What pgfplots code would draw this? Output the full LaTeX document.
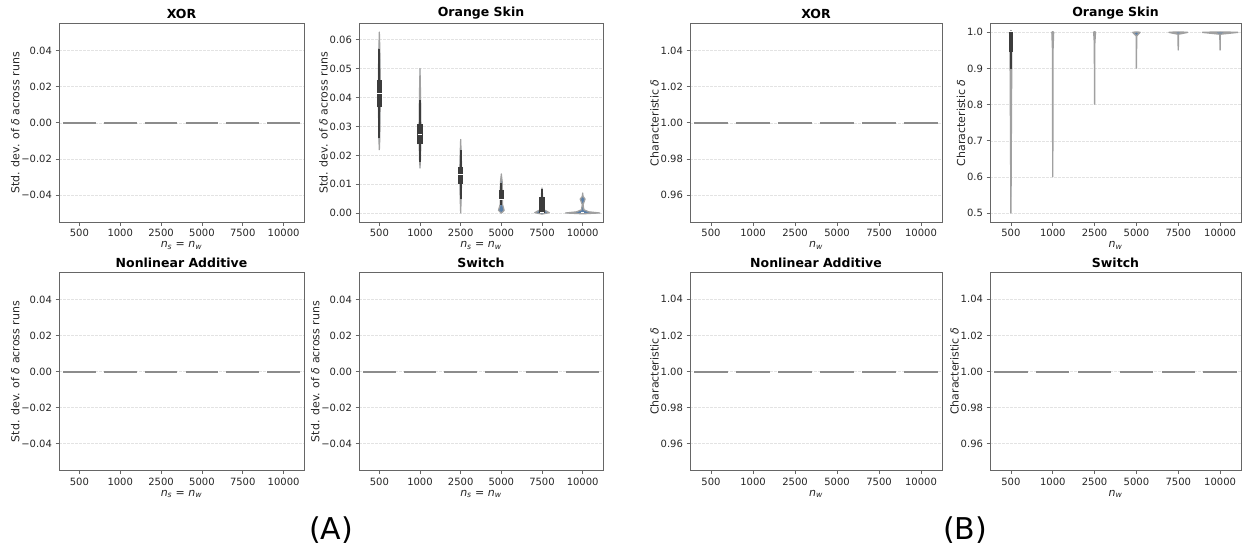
\documentclass[border=0pt]{standalone}
\usepackage{pgfplots}
\pgfplotsset{compat=1.18}
\usepackage{fontspec}
\setmainfont{DejaVu Sans}

\definecolor{frame}{HTML}{666666}
\definecolor{txt}{HTML}{262626}
\definecolor{flat}{HTML}{8C8C8C}
\definecolor{dark}{HTML}{3C3C3C}
\definecolor{vblue}{HTML}{5B80A8}
\definecolor{vedge}{HTML}{A0A0A0}
\definecolor{gridc}{HTML}{E3E3E3}

\pgfplotsset{
  panel/.style={
    scale only axis, height=199pt,
    xmin=-0.5, xmax=5.5, xtick={0,...,5},
    xticklabels={500,1000,2500,5000,7500,10000},
    scaled y ticks=false,
    ymajorgrids, grid style={gridc, dash pattern=on 2.5pt off 1.5pt, line width=0.5pt},
    axis line style={frame, line width=0.9pt},
    tick style={frame, line width=0.8pt},
    major tick length=3.5pt, tick align=outside,
    xtick pos=left, ytick pos=left,
    ticklabel style={font=\fontsize{10}{12}\selectfont, text=txt},
    label style={font=\fontsize{11}{13}\selectfont, text=txt},
    xlabel style={yshift=2pt},
    ylabel shift=-5pt,
    title style={font=\bfseries\fontsize{12.5}{15}\selectfont, yshift=-5pt},
    /pgf/number format/assume math mode=true,
  },
  panelA/.style={panel,
    xlabel={\textit{n}\textsubscript{\textit{s}} = \textit{n}\textsubscript{\textit{w}}},
    ylabel={Std. dev. of \textit{δ} across runs}},
  panelB/.style={panel,
    xlabel={\textit{n}\textsubscript{\textit{w}}},
    ylabel={Characteristic \textit{δ}}},
  zeroA/.style={panelA, ymin=-0.055, ymax=0.055,
    ytick={-0.04,-0.02,0,0.02,0.04},
    yticklabels={−0.04,−0.02,0.00,0.02,0.04}},
  oneB/.style={panelB, ymin=0.945, ymax=1.055,
    ytick={0.96,0.98,1.00,1.02,1.04},
    yticklabels={0.96,0.98,1.00,1.02,1.04}},
  flatseg/.style={flat, line width=2pt, unbounded coords=jump},
  violin/.style={fill=vblue, draw=vedge, line width=1.2pt, line join=round},
  whisk/.style={dark, line width=1.8pt},
  iqr/.style={dark, line width=5.5pt},
  med/.style={white, line width=1pt},
}

\begin{document}
\begin{tikzpicture}
\useasboundingbox (0,0) rectangle (1243pt,550pt);

% ---------------- (A) ----------------
\begin{axis}[zeroA, width=245pt, at={(59pt,327.7pt)}, anchor=south west, title={XOR}]
\addplot[flatseg] coordinates {(-0.4,0) (0.4,0) (0.5,nan) (0.6,0) (1.4,0) (1.5,nan) (1.6,0) (2.4,0) (2.5,nan)
  (2.6,0) (3.4,0) (3.5,nan) (3.6,0) (4.4,0) (4.5,nan) (4.6,0) (5.4,0)};
\end{axis}

\begin{axis}[panelA, width=244pt, at={(359pt,327.7pt)}, anchor=south west, title={Orange Skin},
  ymin=-0.003125, ymax=0.065625, ytick={0,0.01,...,0.06},
  yticklabels={0.00,0.01,0.02,0.03,0.04,0.05,0.06}]
% 500
\addplot[violin] coordinates {(0,0.0218) (0.012,0.026) (0.02,0.035) (0.025,0.042) (0.02,0.05) (0.012,0.057) (0,0.0626)
  (-0.012,0.057) (-0.02,0.05) (-0.025,0.042) (-0.02,0.035) (-0.012,0.026) (0,0.0218)};
\addplot[whisk] coordinates {(0,0.0259) (0,0.0569)};
\addplot[iqr] coordinates {(0,0.0366) (0,0.0462)};
\addplot[med] coordinates {(-0.06,0.0414) (0.06,0.0414)};
% 1000
\addplot[violin] coordinates {(1,0.0155) (1.012,0.019) (1.02,0.024) (1.025,0.028) (1.02,0.034) (1.012,0.042) (1,0.050)
  (0.988,0.042) (0.98,0.034) (0.975,0.028) (0.98,0.024) (0.988,0.019) (1,0.0155)};
\addplot[whisk] coordinates {(1,0.0178) (1,0.039)};
\addplot[iqr] coordinates {(1,0.0238) (1,0.0308)};
\addplot[med] coordinates {(0.94,0.0272) (1.06,0.0272)};
% 2500
\addplot[violin] coordinates {(2,0.0) (2.012,0.005) (2.02,0.010) (2.025,0.0135) (2.02,0.017) (2.012,0.021) (2,0.0255)
  (1.988,0.021) (1.98,0.017) (1.975,0.0135) (1.98,0.010) (1.988,0.005) (2,0.0)};
\addplot[whisk] coordinates {(2,0.0049) (2,0.0218)};
\addplot[iqr] coordinates {(2,0.0101) (2,0.0161)};
\addplot[med] coordinates {(1.94,0.0135) (2.06,0.0135)};
% 5000
\addplot[violin] coordinates {(3,0.0) (3.07,0.001) (3.03,0.003) (3.03,0.007) (3.02,0.011) (3,0.0136)
  (2.98,0.011) (2.97,0.007) (2.97,0.003) (2.93,0.001) (3,0.0)};
\addplot[whisk] coordinates {(3,0.0030) (3,0.0104)};
\addplot[iqr] coordinates {(3,0.0046) (3,0.0080)};
\addplot[med] coordinates {(2.94,0.0049) (3.06,0.0049)};
% 7500
\addplot[violin] coordinates {(4,-0.0003) (4.18,0.0002) (4.05,0.0012) (4.025,0.003) (4.015,0.006) (4,0.0087)
  (3.985,0.006) (3.975,0.003) (3.95,0.0012) (3.82,0.0002) (4,-0.0003)};
\addplot[whisk] coordinates {(4,0.0) (4,0.0085)};
\addplot[iqr] coordinates {(4,0.0) (4,0.0057)};
\addplot[med] coordinates {(3.94,0.0003) (4.06,0.0003)};
% 10000
\addplot[violin] coordinates {(5,-0.0002) (5.42,0.0001) (5.15,0.0005) (5.03,0.0012) (5.01,0.003) (5.06,0.0049) (5.01,0.0058) (5,0.007)
  (4.99,0.0058) (4.94,0.0049) (4.99,0.003) (4.97,0.0012) (4.85,0.0005) (4.58,0.0001) (5,-0.0002)};
\addplot[med] coordinates {(4.96,0.0001) (5.04,0.0001)};
\end{axis}

\begin{axis}[zeroA, width=245pt, at={(59pt,79.3pt)}, anchor=south west, height=198.4pt, title={Nonlinear Additive}]
\addplot[flatseg] coordinates {(-0.4,0) (0.4,0) (0.5,nan) (0.6,0) (1.4,0) (1.5,nan) (1.6,0) (2.4,0) (2.5,nan)
  (2.6,0) (3.4,0) (3.5,nan) (3.6,0) (4.4,0) (4.5,nan) (4.6,0) (5.4,0)};
\end{axis}

\begin{axis}[zeroA, width=244pt, at={(359pt,79.3pt)}, anchor=south west, height=198.4pt, title={Switch}]
\addplot[flatseg] coordinates {(-0.4,0) (0.4,0) (0.5,nan) (0.6,0) (1.4,0) (1.5,nan) (1.6,0) (2.4,0) (2.5,nan)
  (2.6,0) (3.4,0) (3.5,nan) (3.6,0) (4.4,0) (4.5,nan) (4.6,0) (5.4,0)};
\end{axis}

% ---------------- (B) ----------------
\begin{axis}[oneB, width=252pt, at={(690pt,327.7pt)}, anchor=south west, title={XOR}]
\addplot[flatseg] coordinates {(-0.4,1) (0.4,1) (0.5,nan) (0.6,1) (1.4,1) (1.5,nan) (1.6,1) (2.4,1) (2.5,nan)
  (2.6,1) (3.4,1) (3.5,nan) (3.6,1) (4.4,1) (4.5,nan) (4.6,1) (5.4,1)};
\end{axis}

\begin{axis}[panelB, width=251pt, at={(990pt,327.7pt)}, anchor=south west, title={Orange Skin},
  ymin=0.475, ymax=1.025, ytick={0.5,0.6,0.7,0.8,0.9,1.0},
  yticklabels={0.5,0.6,0.7,0.8,0.9,1.0}]
\addplot[violin, line width=1.4pt] coordinates {(0,0.5) (0.008,0.7) (0.02,0.95) (0.03,1.0) (0,1.005) (-0.03,1.0) (-0.02,0.95) (-0.008,0.7) (0,0.5)};
\addplot[whisk] coordinates {(0,0.90) (0,1.0)};
\addplot[iqr, line width=4.5pt] coordinates {(0,0.945) (0,1.004)};
\addplot[med] coordinates {(-0.05,1.002) (0.05,1.002)};
\addplot[violin, line width=1.4pt] coordinates {(1,0.6) (1.005,0.95) (1.02,1.0) (1,1.002) (0.98,1.0) (0.995,0.95) (1,0.6)};
\addplot[violin, line width=1.4pt] coordinates {(2,0.8) (2.005,0.97) (2.02,1.0) (2,1.002) (1.98,1.0) (1.995,0.97) (2,0.8)};
\addplot[violin, line width=1.4pt] coordinates {(3,0.9) (3.005,0.99) (3.085,1.0) (3,1.001) (2.915,1.0) (2.995,0.99) (3,0.9)};
\addplot[violin, line width=1.4pt] coordinates {(4,0.95) (4.005,0.995) (4.22,1.0) (4,1.001) (3.78,1.0) (3.995,0.995) (4,0.95)};
\addplot[violin, line width=1.4pt] coordinates {(5,0.95) (5.005,0.995) (5.42,1.0) (5,1.001) (4.58,1.0) (4.995,0.995) (5,0.95)};
\end{axis}

\begin{axis}[oneB, width=252pt, at={(690pt,79.3pt)}, anchor=south west, height=198.4pt, title={Nonlinear Additive}]
\addplot[flatseg] coordinates {(-0.4,1) (0.4,1) (0.5,nan) (0.6,1) (1.4,1) (1.5,nan) (1.6,1) (2.4,1) (2.5,nan)
  (2.6,1) (3.4,1) (3.5,nan) (3.6,1) (4.4,1) (4.5,nan) (4.6,1) (5.4,1)};
\end{axis}

\begin{axis}[oneB, width=251pt, at={(990pt,79.3pt)}, anchor=south west, height=198.4pt, title={Switch}]
\addplot[flatseg] coordinates {(-0.4,1) (0.4,1) (0.5,nan) (0.6,1) (1.4,1) (1.5,nan) (1.6,1) (2.4,1) (2.5,nan)
  (2.6,1) (3.4,1) (3.5,nan) (3.6,1) (4.4,1) (4.5,nan) (4.6,1) (5.4,1)};
\end{axis}

\node[font=\fontsize{30}{34}\selectfont] at (331pt,20pt) {(A)};
\node[font=\fontsize{30}{34}\selectfont] at (965pt,20pt) {(B)};
\end{tikzpicture}
\end{document}
